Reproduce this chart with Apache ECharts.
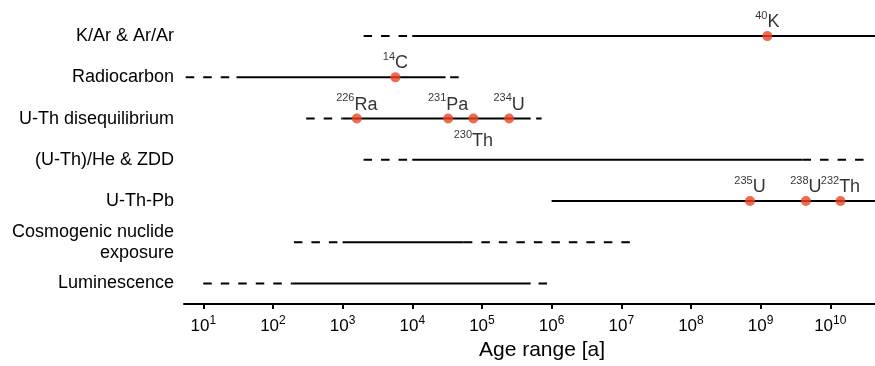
<!DOCTYPE html>
<html>
<head>
<meta charset="utf-8">
<script src="https://cdn.jsdelivr.net/npm/echarts@6/dist/echarts.min.js"></script>
<style>
  html, body { margin: 0; padding: 0; background: #fff; }
  #chart { width: 875px; height: 366px; }
</style>
</head>
<body>
<div id="chart"></div>
<script>
// ---- Data ----
const methods = ['K/Ar & Ar/Ar', 'Radiocarbon', 'U-Th disequilibrium', '(U-Th)/He & ZDD', 'U-Th-Pb', 'Cosmogenic nuclide\nexposure', 'Luminescence'];
// age ranges [a] per method (null = none)
const dashedLow  = [[2000, 1e4], [5.6, 30],  [300, 1000], [2000, 1e4], null,       [200, 1000], [10, 190]];
const solidRange = [[1e4, 1e11], [30, 3e4],  [1000, 5e5], [1e4, 4e9],  [1e6, 1e11], [1000, 5.5e4], [190, 5e5]];
const dashedHigh = [null,        [3.5e4, 5e4], [6e5, 7.2e5], [4e9, 3.4e10], null,   [5.5e4, 1.5e7], [6.5e5, 8.8e5]];

// half-lives [a] of parent isotopes
const isoMethod = [0, 1, 2, 2, 2, 2, 4, 4, 4];
const isoAge    = [1.25e9, 5730, 1600, 32760, 75380, 245500, 7.04e8, 4.47e9, 1.4e10];
const isoMass   = ['40', '14', '226', '231', '230', '234', '235', '238', '232'];
const isoSymbol = ['K', 'C', 'Ra', 'Pa', 'Th', 'U', 'U', 'U', 'Th'];
const isoBelow  = [false, false, false, false, true, false, false, false, false];

const tickValues = [1e1, 1e2, 1e3, 1e4, 1e5, 1e6, 1e7, 1e8, 1e9, 1e10];
const axisMin = Math.pow(10, 0.7235);
const axisMax = Math.pow(10, 10.642);

// ---- Build series ----
const series = [];
function addSeg(range, idx, dashed) {
  if (!range) return;
  series.push({
    type: 'line',
    data: [[range[0], idx], [range[1], idx]],
    symbol: 'none',
    silent: true,
    animation: false,
    lineStyle: { color: '#000', width: 2, type: dashed ? [8.5, 9] : 'solid', cap: 'butt' },
    z: 2
  });
}
methods.forEach((m, i) => {
  addSeg(dashedLow[i], i, true);
  addSeg(solidRange[i], i, false);
  addSeg(dashedHigh[i], i, true);
});

const FONT = 'Liberation Sans, Arial, sans-serif';
const supRich = {
  s: { fontSize: 11, lineHeight: 10, verticalAlign: 'top', color: '#000', fontFamily: FONT },
  m: { fontSize: 18, lineHeight: 21, verticalAlign: 'bottom', color: '#000', fontFamily: FONT }
};

series.push({
  type: 'scatter',
  symbol: 'circle',
  symbolSize: 10,
  animation: false,
  z: 5,
  itemStyle: { color: '#EF4426' },
  data: isoAge.map((a, k) => ({
    value: [a, isoMethod[k]],
    label: {
      show: true,
      position: isoBelow[k] ? 'bottom' : 'top',
      distance: isoBelow[k] ? 5.5 : 0,
      formatter: '{s|' + isoMass[k] + '}{m|' + isoSymbol[k] + '}',
      rich: supRich
    }
  }))
});

const chart = echarts.init(document.getElementById('chart'), null, { renderer: 'canvas' });
chart.setOption({
  animation: false,
  backgroundColor: '#fff',
  grid: { left: 184, right: 0, top: 15.5, bottom: 59.5, containLabel: false },
  xAxis: {
    type: 'log',
    logBase: 10,
    min: axisMin,
    max: axisMax,
    name: 'Age range [a]',
    nameLocation: 'middle',
    nameGap: 33,
    nameTextStyle: { fontSize: 21, color: '#000', fontFamily: FONT, padding: [0, 0, 0, 25] },
    axisLine: { show: true, lineStyle: { color: '#000', width: 2 } },
    axisTick: { show: true, length: 5, lineStyle: { color: '#000', width: 2 }, customValues: tickValues },
    minorTick: { show: false },
    splitLine: { show: false },
    axisLabel: {
      customValues: tickValues,
      margin: 11,
      formatter: function (v) {
        const e = Math.round(Math.log10(v));
        return '{b|10}{e|' + e + '}';
      },
      rich: {
        b: { fontSize: 17, lineHeight: 20, verticalAlign: 'bottom', color: '#000', fontFamily: FONT },
        e: { fontSize: 12, lineHeight: 8, verticalAlign: 'top', color: '#000', fontFamily: FONT }
      }
    }
  },
  yAxis: {
    type: 'category',
    data: methods,
    inverse: true,
    boundaryGap: true,
    axisLine: { show: false },
    axisTick: { show: false },
    splitLine: { show: false },
    axisLabel: {
      margin: 10,
      fontSize: 18,
      lineHeight: 21,
      color: '#000',
      align: 'right',
      fontFamily: FONT
    }
  },
  series: series
});
</script>
</body>
</html>
